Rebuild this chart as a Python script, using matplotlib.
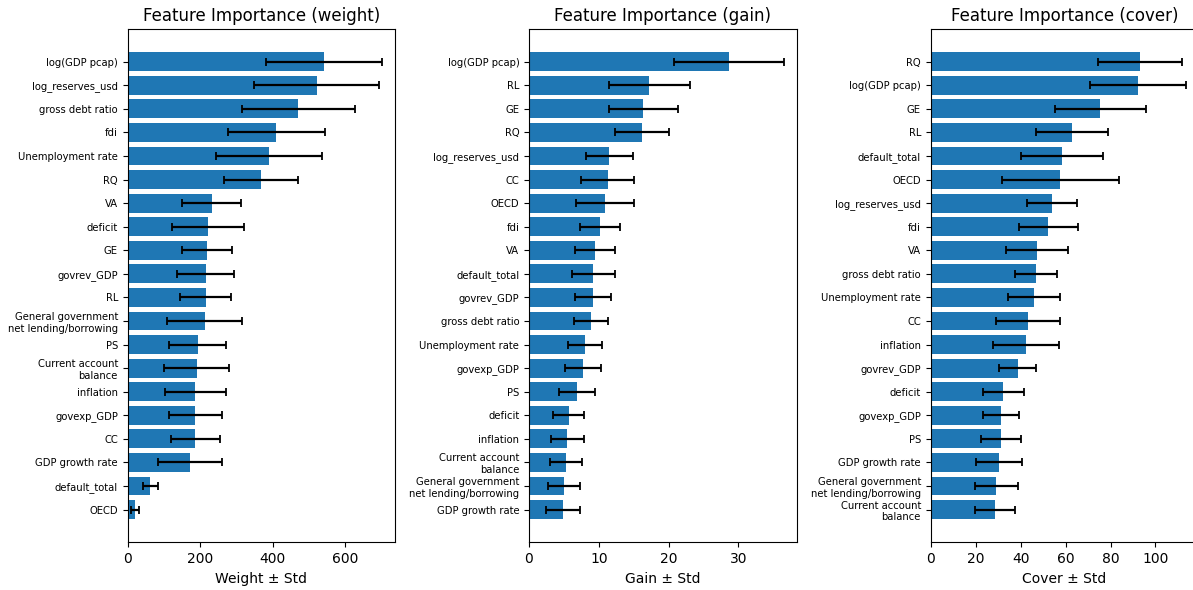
import numpy as np
import matplotlib
matplotlib.use("Agg")
import matplotlib.pyplot as plt

GGNLB = "General government\nnet lending/borrowing"
CAB = "Current account\nbalance"

# Weight importance (sorted, largest first)
weight_features = ["log(GDP pcap)", "log_reserves_usd", "gross debt ratio", "fdi",
                   "Unemployment rate", "RQ", "VA", "deficit", "GE", "govrev_GDP", "RL",
                   GGNLB, "PS", CAB, "inflation", "govexp_GDP", "CC", "GDP growth rate",
                   "default_total", "OECD"]
weight_mean = [542, 521, 471, 410, 390, 368, 232, 221, 218, 215, 215,
               212, 193, 190, 187, 187, 187, 171, 63, 20]
weight_std = [161, 173, 156, 134, 146, 103, 81, 99, 69, 78, 71,
              103, 79, 89, 84, 74, 67, 88, 21, 11]

# Gain importance
gain_features = ["log(GDP pcap)", "RL", "GE", "RQ", "log_reserves_usd", "CC", "OECD",
                 "fdi", "VA", "default_total", "govrev_GDP", "gross debt ratio",
                 "Unemployment rate", "govexp_GDP", "PS", "deficit", "inflation",
                 CAB, GGNLB, "GDP growth rate"]
gain_mean = [28.6, 17.2, 16.4, 16.2, 11.5, 11.3, 10.9, 10.2, 9.45, 9.2, 9.2, 8.9,
             8.0, 7.7, 6.9, 5.7, 5.5, 5.3, 5.0, 4.9]
gain_std = [7.9, 5.8, 4.9, 3.9, 3.4, 3.8, 4.15, 2.9, 2.9, 3.1, 2.55, 2.4,
            2.45, 2.55, 2.55, 2.25, 2.4, 2.25, 2.3, 2.4]

# Cover importance
cover_features = ["RQ", "log(GDP pcap)", "GE", "RL", "default_total", "OECD",
                  "log_reserves_usd", "fdi", "VA", "gross debt ratio", "Unemployment rate",
                  "CC", "inflation", "govrev_GDP", "deficit", "govexp_GDP", "PS",
                  "GDP growth rate", GGNLB, CAB]
cover_mean = [93.0, 92.2, 75.4, 62.8, 58.6, 57.7, 54.1, 52.4, 47.3, 46.9, 46.0,
              43.3, 42.4, 38.7, 32.3, 31.4, 31.4, 30.5, 29.2, 28.8]
cover_std = [18.65, 21.15, 20.2, 16.15, 18.2, 26.1, 11.1, 13.15, 13.65, 9.3, 11.55,
             14.05, 14.75, 8.15, 9.05, 7.95, 8.8, 10.25, 9.55, 8.9]

panels = [
    ("Feature Importance (weight)", "Weight ± Std", weight_features, weight_mean, weight_std),
    ("Feature Importance (gain)", "Gain ± Std", gain_features, gain_mean, gain_std),
    ("Feature Importance (cover)", "Cover ± Std", cover_features, cover_mean, cover_std),
]

fig = plt.figure(figsize=(11.93, 5.90), dpi=100)
lefts = [0.1070, 0.4434, 0.7801]
for left, (title, xlabel, feats, mean, std) in zip(lefts, panels):
    ax = fig.add_axes([left, 0.0808, 0.2243, 0.870])
    pos = np.arange(len(feats))
    ax.barh(pos, mean, xerr=std, color="#1f77b4", capsize=3,
            error_kw=dict(ecolor="black", elinewidth=1.6, capthick=1.3))
    ax.set_yticks(pos)
    ax.set_yticklabels(feats, fontsize=7.2)
    ax.invert_yaxis()
    ax.set_title(title, fontsize=12)
    ax.set_xlabel(xlabel, fontsize=10)

fig.savefig("out.png", dpi=100)
